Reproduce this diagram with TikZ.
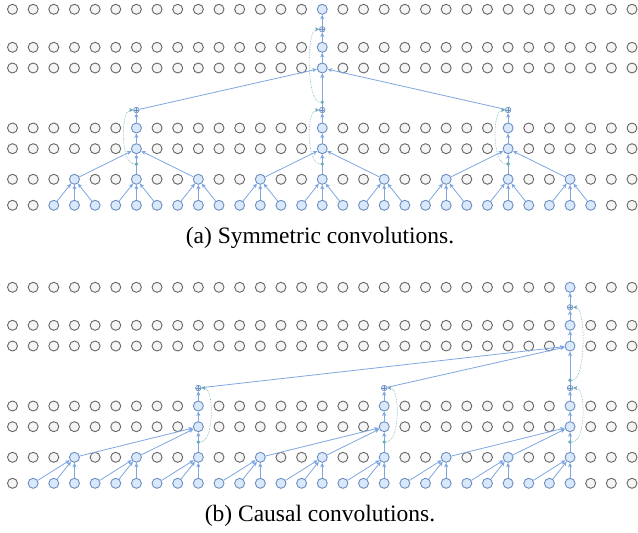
\documentclass[tikz,border=0pt]{standalone}
\usepackage{fontspec}
\setmainfont{Liberation Serif}
\usetikzlibrary{arrows.meta}
\definecolor{gfill}{HTML}{F5F5F5}
\definecolor{gdraw}{HTML}{666666}
\definecolor{bfill}{HTML}{DAE8FC}
\definecolor{bdraw}{HTML}{6C8EBF}
\definecolor{edgecol}{HTML}{7EA6E0}
\definecolor{rescol}{HTML}{6BAAB8}
\begin{document}
\begin{tikzpicture}[x=1pt,y=-1pt,
  gnode/.style={circle,draw=gdraw,fill=gfill,line width=0.9pt,minimum size=10pt,inner sep=0pt},
  bnode/.style={circle,draw=bdraw,fill=bfill,line width=0.9pt,minimum size=10pt,inner sep=0pt},
  pnode/.style={circle,draw=bdraw,fill=bfill,line width=0.6pt,minimum size=5.6pt,inner sep=0pt,
    path picture={\draw[bdraw,line width=0.5pt] (path picture bounding box.north) -- (path picture bounding box.south) (path picture bounding box.west) -- (path picture bounding box.east);}},
  dnode/.style={circle,fill=rescol,minimum size=3.8pt,inner sep=0pt},
  conn/.style={draw=edgecol,line width=0.8pt,-{Stealth[length=4.5pt,width=4pt,inset=1.2pt]}},
  resid/.style={draw=rescol,line width=0.6pt,densely dotted,-{Stealth[length=4pt,width=4pt,inset=1pt]}},
  captext/.style={font=\fontsize{23.5}{28}\selectfont,inner sep=0pt}
]
\useasboundingbox (0,0) rectangle (638,533);
% grid of circles
\foreach \p/\off/\lo/\hi/\sa/\tp in {a/0/2/28/6/15,b/278/1/27/9/27}{
  \foreach \r/\yy in {0/205.3,1/179.3,2/148.7,3/128,4/68,5/47.3,6/9.3}{
    \foreach \i in {0,...,30}{
      \pgfmathtruncatemacro\bl{(\r==0)*(\i>=\lo)*(\i<=\hi)+(\r==1)*(mod(\i,3)==0)*(\i>=3)*(\i<=27)+((\r==2)+(\r==3))*(\i>=\sa)*(\i<=\sa+18)*(mod(\i-\sa+27,9)==0)+(\r>=4)*(\i==\tp)}
      \ifnum\bl>0
        \node[bnode] (\p-\r-\i) at ({12.5+20.65*\i},{\yy+\off}) {};
      \else
        \node[gnode] (\p-\r-\i) at ({12.5+20.65*\i},{\yy+\off}) {};
      \fi
    }
  }
  \foreach \k in {0,1,2}{
    \pgfmathtruncatemacro\c{\sa+9*\k}
    \node[pnode] (\p-p-\c) at ({12.5+20.65*\c},{110+\off}) {};
  }
  \node[pnode] (\p-q) at ({12.5+20.65*\tp},{29.3+\off}) {};
}
% panel a edges
\foreach \c in {3,6,...,27}{
  \foreach \d in {-1,0,1}{
    \pgfmathtruncatemacro\s{\c+\d}
    \draw[conn] (a-0-\s) -- (a-1-\c);
  }
}
\foreach \c in {6,15,24}{
  \foreach \d in {-3,0,3}{
    \pgfmathtruncatemacro\s{\c+\d}
    \draw[conn] (a-1-\s) -- (a-2-\c);
  }
  \draw[conn] (a-2-\c) -- (a-3-\c);
  \draw[conn] (a-3-\c) -- (a-p-\c);
  \draw[conn] (a-p-\c) -- (a-4-15);
}
% panel b edges
\foreach \c in {3,6,...,27}{
  \foreach \d in {-2,-1,0}{
    \pgfmathtruncatemacro\s{\c+\d}
    \draw[conn] (b-0-\s) -- (b-1-\c);
  }
}
\foreach \c in {9,18,27}{
  \foreach \d in {-6,-3,0}{
    \pgfmathtruncatemacro\s{\c+\d}
    \draw[conn] (b-1-\s) -- (b-2-\c);
  }
  \draw[conn] (b-2-\c) -- (b-3-\c);
  \draw[conn] (b-3-\c) -- (b-p-\c);
  \draw[conn] (b-p-\c) -- (b-4-27);
}
\foreach \p/\tp in {a/15,b/27}{
  \draw[conn] (\p-4-\tp) -- (\p-5-\tp);
  \draw[conn] (\p-5-\tp) -- (\p-q);
  \draw[conn] (\p-q) -- (\p-6-\tp);
}
% dots and residual connections
\foreach \p/\off/\sa/\tp/\sg/\an in {a/0/6/15/-1/west,b/278/9/27/1/east}{
  \foreach \k in {0,1,2}{
    \pgfmathtruncatemacro\c{\sa+9*\k}
    \node[dnode] (\p-d-\c) at ({12.5+20.65*\c},{164+\off}) {};
    \draw[resid] (\p-d-\c) .. controls +({16*\sg},0) and +({13*\sg},0) .. (\p-p-\c.\an);
  }
  \node[dnode] (\p-e) at ({12.5+20.65*\tp},{102.3+\off}) {};
  \draw[resid] (\p-e) .. controls +({16*\sg},0) and +({13*\sg},0) .. (\p-q.\an);
}
% captions
\node[captext] (capa) at (320,238) {(a) Symmetric convolutions.};
\node[captext] (capb) at (320,516) {(b) Causal convolutions.};
\end{tikzpicture}
\end{document}
